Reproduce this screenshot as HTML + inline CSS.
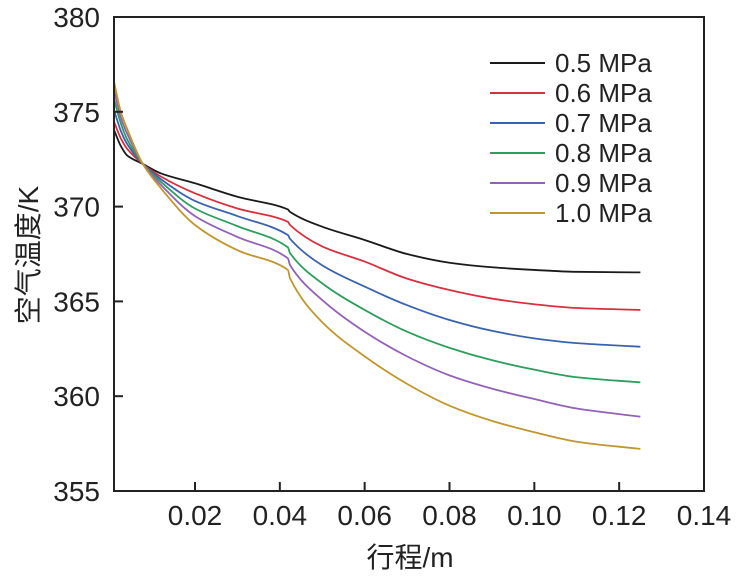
<!DOCTYPE html>
<html><head><meta charset="utf-8"><style>
html,body{margin:0;padding:0;background:#fff;}
svg{display:block;font-family:"Liberation Sans","Noto Sans CJK SC",sans-serif;}
</style></head><body>
<svg id="chart" width="737" height="578" viewBox="0 0 737 578" xmlns="http://www.w3.org/2000/svg"></svg>
<script>
const xValues = [0.0009,0.0025,0.004,0.0077,0.012,0.02,0.03,0.0419,0.0424,0.05,0.06,0.07,0.08,0.09,0.10,0.11,0.125];
const seriesNames = ["0.5 MPa","0.6 MPa","0.7 MPa","0.8 MPa","0.9 MPa","1.0 MPa"];
const seriesColors = ["#1a1a1a","#d7303f","#3a63ae","#2e9e5e","#9362b8","#c0962e"];
const s05 = [374.04,373.2,372.7,372.25,371.75,371.23,370.52,369.85,369.72,368.94,368.24,367.5,367.04,366.8,366.66,366.56,366.53];
const s06 = [374.48,373.6,373.05,372.25,371.58,370.7,369.9,369.2,369.03,367.9,367.1,366.2,365.6,365.15,364.85,364.65,364.55];
const s07 = [375.1,374.0,373.3,372.25,371.44,370.3,369.5,368.5,368.3,366.9,365.78,364.8,364.02,363.45,363.05,362.8,362.61];
const s08 = [375.66,374.4,373.55,372.25,371.3,369.9,368.97,367.85,367.55,365.95,364.55,363.4,362.55,361.9,361.4,361.0,360.73];
const s09 = [376.15,374.7,373.85,372.25,371.14,369.5,368.4,367.27,366.92,365.07,363.4,362.1,361.1,360.4,359.85,359.35,358.92];
const s10 = [376.6,375.0,374.1,372.25,370.96,369.03,367.7,366.66,366.22,363.9,362.1,360.65,359.5,358.7,358.1,357.6,357.22];
const seriesValues = [s05,s06,s07,s08,s09,s10];
const xTicks = [0.02,0.04,0.06,0.08,0.10,0.12,0.14];
const xTickLabels = ["0.02","0.04","0.06","0.08","0.10","0.12","0.14"];
const yTicks = [355,360,365,370,375,380];
const yTickLabels = ["355","360","365","370","375","380"];

const NS="http://www.w3.org/2000/svg";
const svg=document.getElementById('chart');
const L=114,R=704,T=17,B=491;
const xs=v=>195+(v-0.02)*(509/0.12);
const ys=v=>T+(380-v)*((B-T)/25);
function mk(tag,attrs,parent){const e=document.createElementNS(NS,tag);for(const k in attrs)e.setAttribute(k,attrs[k]);(parent||svg).appendChild(e);return e;}

function monoPath(px,py){
  const n=px.length,d=[],m=new Array(n);
  for(let i=0;i<n-1;i++)d.push((py[i+1]-py[i])/(px[i+1]-px[i]));
  m[0]=d[0];m[n-1]=d[n-2];
  for(let i=1;i<n-1;i++){m[i]=(d[i-1]*d[i]<=0)?0:2/(1/d[i-1]+1/d[i]);}
  let p="M"+px[0]+","+py[0];
  for(let i=0;i<n-1;i++){const h=px[i+1]-px[i];
    p+=" C"+(px[i]+h/3)+","+(py[i]+m[i]*h/3)+" "+(px[i+1]-h/3)+","+(py[i+1]-m[i+1]*h/3)+" "+px[i+1]+","+py[i+1];}
  return p;
}
const g=mk('g',{});


seriesValues.forEach((vals,i)=>{
  const p=mk('path',{d:monoPath(xValues.map(xs),vals.map(ys)),fill:'none',stroke:seriesColors[i],'stroke-width':1.8},g);
  
  
});

const fr=mk('rect',{x:L,y:T,width:R-L,height:B-T,fill:'none',stroke:'#222','stroke-width':2});



xTicks.forEach((t,i)=>{
  const x=xs(t);
  if(x<R-2){const tk=mk('line',{x1:x,x2:x,y1:B,y2:B-9,stroke:'#222','stroke-width':2});
  
  }
  const tx=mk('text',{x:x,y:B+34,'text-anchor':'middle','font-size':28,fill:'#222'});
  tx.textContent=xTickLabels[i];
  
  
});
yTicks.forEach((t,i)=>{
  const y=ys(t);
  if(y>T+2&&y<B-2){const tk=mk('line',{x1:L,x2:L+9,y1:y,y2:y,stroke:'#222','stroke-width':2});
  
  }
  const tx=mk('text',{x:100,y:y+10,'text-anchor':'end','font-size':28,fill:'#222'});
  tx.textContent=yTickLabels[i];
  
  
});

const xt=mk('text',{x:410,y:567,'text-anchor':'middle','font-size':28,fill:'#222'});
xt.textContent='行程/m';


const yt=mk('text',{x:0,y:0,'text-anchor':'middle','font-size':28,fill:'#222',transform:'translate(38,255) rotate(-90)'});
yt.textContent='空气温度/K';



seriesNames.forEach((n,i)=>{
  const y=63+i*30;
  const lg=mk('g',{});
  
  
  mk('line',{x1:490,x2:545,y1:y,y2:y,stroke:seriesColors[i],'stroke-width':2},lg);
  const t=mk('text',{x:555,y:y+9,'font-size':26,fill:'#222'},lg);
  t.textContent=n;
});
</script>
</body></html>
